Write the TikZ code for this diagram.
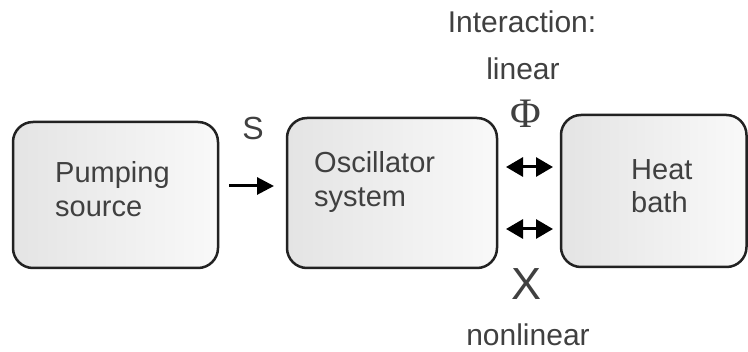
\documentclass[tikz,border=0pt]{standalone}
\usepackage{fontspec}
\setmainfont{Liberation Sans}
\newfontfamily\serifphi{Liberation Serif}
\usetikzlibrary{arrows.meta}
\definecolor{txt}{HTML}{404040}
\definecolor{edge}{HTML}{222222}
\definecolor{fillL}{HTML}{E4E4E4}
\definecolor{fillR}{HTML}{F9F9F9}
\tikzset{
  blockbox/.style={draw=edge, line width=2.5pt, rounded corners=20pt,
    left color=fillL, right color=fillR},
  boxtext/.style={anchor=base west, inner sep=0pt, text=txt,
    font=\fontsize{29}{34}\selectfont, align=left},
  lbl/.style={anchor=base, inner sep=0pt, text=txt, font=\fontsize{30}{34}\selectfont},
  conn/.style={line width=3pt, draw=black},
  headone/.style={-{Triangle[length=17pt,width=17pt]}},
  headtwo/.style={{Triangle[length=17pt,width=19pt]}-{Triangle[length=17pt,width=19pt]}}
}
\begin{document}
\begin{tikzpicture}[x=1pt,y=-1pt]
\useasboundingbox (0,0) rectangle (748,352);
% boxes
\path[blockbox] (13,122) rectangle (218,268);
\path[blockbox] (287,118) rectangle (497,268);
\path[blockbox] (561,115) rectangle (746.5,267);
% box texts
\node[boxtext] (tp) at (55,183) {Pumping};
\node[boxtext] (ts) at (55,217) {source};
\node[boxtext] (to) at (314,173) {Oscillator};
\node[boxtext] (tsy) at (314,207) {system};
\node[boxtext] (th) at (631,180) {Heat};
\node[boxtext] (tb) at (631,213) {bath};
% arrows
\coordinate (a1) at (229,186);
\coordinate (a2) at (274,186);
\draw[conn,headone] (a1) -- (a2);
\coordinate (b1) at (506,167);
\coordinate (b2) at (553,167);
\draw[conn,headtwo] (b1) -- (b2);
\coordinate (c1) at (506,229);
\coordinate (c2) at (553,229);
\draw[conn,headtwo] (c1) -- (c2);
% labels
\node[lbl, font=\fontsize{32}{34}\selectfont] (s) at (253,140) {S};
\node[lbl] (inter) at (522,33) {Interaction:};
\node[lbl] (lin) at (523,80) {linear};
\node[lbl, font=\serifphi\fontsize{42}{44}\selectfont] (phi) at (526,128) {Φ};
\node[lbl, font=\fontsize{45}{48}\selectfont] (x) at (527,300) {X};
\node[lbl] (nonlin) at (528,346) {nonlinear};
\end{tikzpicture}
\end{document}
